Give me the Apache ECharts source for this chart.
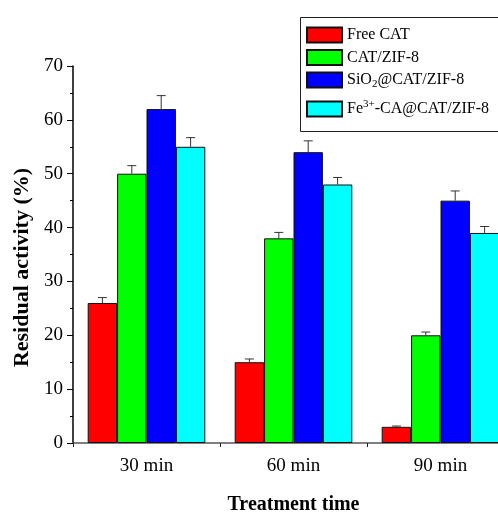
<!DOCTYPE html>
<html>
<head>
<meta charset="utf-8">
<script src="https://cdn.jsdelivr.net/npm/echarts@6/dist/echarts.min.js"></script>
<style>html,body{margin:0;padding:0;background:#fff}#c{width:498px;height:512px}</style>
</head>
<body>
<div id="c"></div>
<script>
const categories = ['30 min', '60 min', '90 min'];
const seriesNames = ['Free CAT', 'CAT/ZIF-8', 'SiO2@CAT/ZIF-8', 'Fe3+-CA@CAT/ZIF-8'];
const freeCat = [26, 15, 3];
const freeCatErr = [1.0, 0.6, 0.15];
const catZif = [50, 38, 20];
const catZifErr = [1.5, 1.1, 0.6];
const sio2Cat = [62, 54, 45];
const sio2CatErr = [2.5, 2.1, 1.8];
const feCat = [55, 48, 39];
const feCatErr = [1.7, 1.3, 1.2];
const yTicks = [0, 10, 20, 30, 40, 50, 60, 70];

const values = [freeCat, catZif, sio2Cat, feCat];
const errors = [freeCatErr, catZifErr, sio2CatErr, feCatErr];
const colors = ['#ff0000', '#00ff00', '#0000ff', '#00ffff'];
const FONT = '"Liberation Serif", "Times New Roman", serif';

const errData = [];
values.forEach((arr, s) => arr.forEach((v, i) => errData.push([i, s, v, errors[s][i]])));

const chart = echarts.init(document.getElementById('c'));
const barSeries = seriesNames.map((n, s) => ({
  name: n, type: 'bar', xAxisIndex: 0, data: values[s],
  barWidth: '20%', barGap: '0%',
  itemStyle: { color: colors[s], borderColor: '#111', borderWidth: 1 }
}));

const legendText = {
  fontFamily: FONT, fontSize: 16, color: '#000', lineHeight: 20,
  rich: {
    sub: { fontFamily: FONT, fontSize: 11, verticalAlign: 'bottom', lineHeight: 11 },
    sup: { fontFamily: FONT, fontSize: 11, verticalAlign: 'top', lineHeight: 11 }
  }
};
const legendFmt = function (n) {
  if (n === 'SiO2@CAT/ZIF-8') return 'SiO{sub|2}@CAT/ZIF-8';
  if (n === 'Fe3+-CA@CAT/ZIF-8') return 'Fe{sup|3+}-CA@CAT/ZIF-8';
  return n;
};

chart.setOption({
  animation: false,
  grid: { left: 73, top: 66, width: 441, height: 377, containLabel: false, outerBoundsMode: 'none' },
  legend: [{
    data: seriesNames.slice(0, 3), orient: 'vertical', left: 301, top: 20,
    itemWidth: 35, itemHeight: 15, itemGap: 2.5, icon: 'rect',
    textStyle: legendText, formatter: legendFmt
  }, {
    data: seriesNames.slice(3), orient: 'vertical', left: 301, top: 94,
    itemWidth: 35, itemHeight: 15, icon: 'rect',
    textStyle: legendText, formatter: legendFmt
  }],
  graphic: [{
    type: 'rect', left: 298, top: 15, z: 100,
    shape: { width: 199, height: 114 },
    style: { fill: null, stroke: '#222', lineWidth: 1 }
  }],
  xAxis: [{
    type: 'category', data: categories,
    name: 'Treatment time', nameLocation: 'middle', nameGap: 52,
    nameTextStyle: { fontFamily: FONT, fontSize: 20, fontWeight: 'bold', color: '#000' },
    axisLine: { lineStyle: { color: '#555', width: 1.5 } },
    axisTick: { alignWithLabel: true, length: 7, lineStyle: { color: '#222' } },
    axisLabel: { fontFamily: FONT, fontSize: 19, color: '#000', margin: 14 },
    splitLine: { show: false }
  }, {
    type: 'category', data: categories, position: 'bottom',
    axisLine: { show: false },
    axisTick: { show: true, length: 4, lineStyle: { color: '#222' } },
    axisLabel: { show: false },
    splitLine: { show: false }
  }],
  yAxis: {
    type: 'value', min: 0, max: 70, interval: 10,
    name: 'Residual activity (%)', nameLocation: 'middle', nameGap: 34,
    nameTextStyle: { fontFamily: FONT, fontSize: 22, fontWeight: 'bold', color: '#000', padding: [0, 26, 0, 0] },
    axisLine: { show: true, lineStyle: { color: '#000', width: 1.5 } },
    axisTick: { show: true, length: 6, lineStyle: { color: '#000' } },
    minorTick: { show: true, splitNumber: 2, length: 3, lineStyle: { color: '#000' } },
    axisLabel: { fontFamily: FONT, fontSize: 19, color: '#000', margin: 10,
      formatter: v => yTicks.indexOf(v) >= 0 ? String(v) : '' },
    splitLine: { show: false }
  },
  series: barSeries.concat([{
    name: 'error', type: 'custom', xAxisIndex: 0, z: 10,
    data: errData, encode: { x: 0, y: 2 },
    renderItem: function (params, api) {
      const cat = api.value(0), s = api.value(1), v = api.value(2), e = api.value(3);
      const bw = api.size([1, 0])[0] * 0.2;
      const top = api.coord([cat, v + e]);
      const base = api.coord([cat, v]);
      const x = base[0] + (s - 1.5) * bw;
      const st = { stroke: '#333', lineWidth: 1 };
      return { type: 'group', children: [
        { type: 'line', shape: { x1: x, y1: base[1], x2: x, y2: top[1] }, style: st },
        { type: 'line', shape: { x1: x - 4.5, y1: top[1], x2: x + 4.5, y2: top[1] }, style: st }
      ] };
    }
  }])
});
</script>
</body>
</html>
